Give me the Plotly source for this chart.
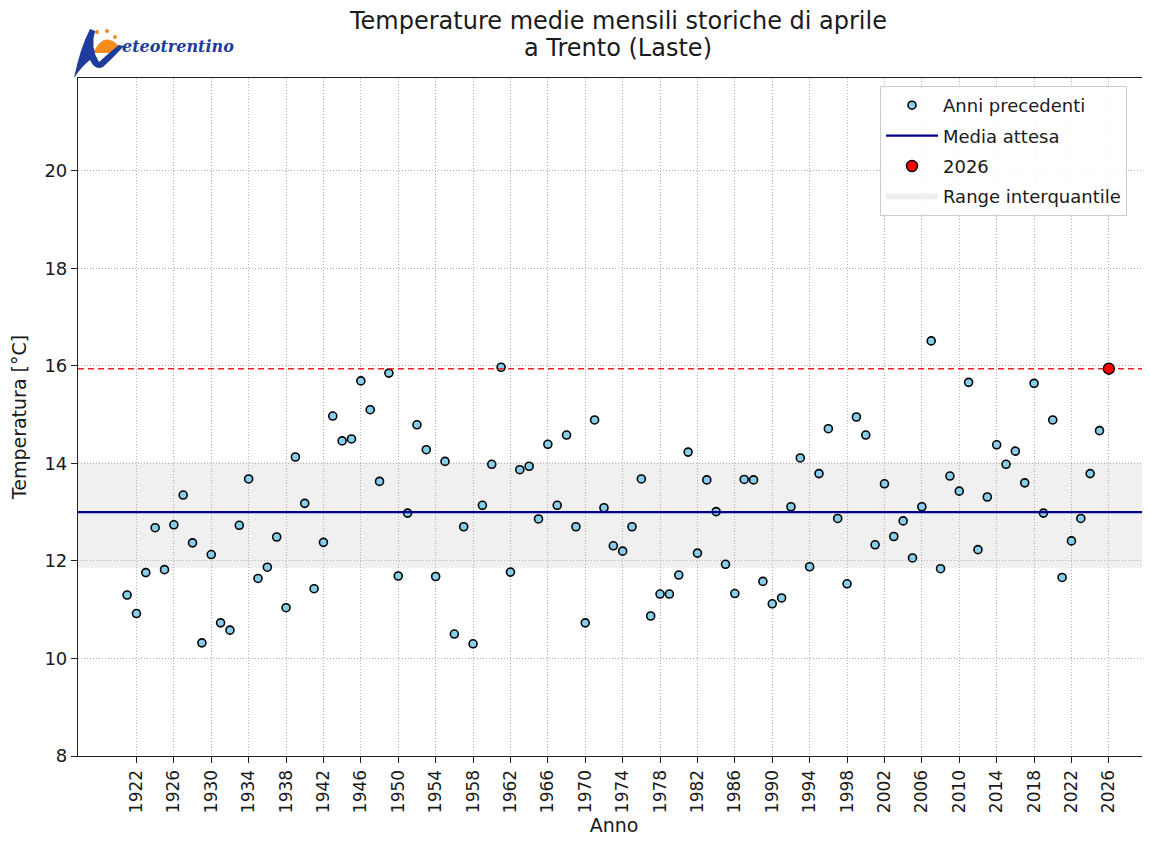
import plotly.graph_objects as go

years = list(range(1921, 2026))
temps = [
    11.30, 10.92, 11.76, 12.68, 11.82, 12.74, 13.35, 12.37, 10.32, 12.13,  # 1921-1930
    10.73, 10.58, 12.73, 13.68, 11.64, 11.87, 12.49, 11.04, 14.13, 13.18,  # 1931-1940
    11.43, 12.38, 14.97, 14.46, 14.50, 15.69, 15.10, 13.63, 15.85, 11.69,  # 1941-1950
    12.98, 14.79, 14.28, 11.68, 14.04, 10.50, 12.70, 10.30, 13.14, 13.98,  # 1951-1960
    15.97, 11.77, 13.87, 13.94, 12.86, 14.39, 13.14, 14.58, 12.70, 10.73,  # 1961-1970
    14.89, 13.09, 12.31, 12.20, 12.70, 13.68, 10.87, 11.32, 11.32, 11.71,  # 1971-1980
    14.23, 12.16, 13.66, 13.01, 11.93, 11.33, 13.67, 13.66, 11.58, 11.12,  # 1981-1990
    11.24, 13.11, 14.11, 11.88, 13.79, 14.71, 12.87, 11.53, 14.95, 14.58,  # 1991-2000
    12.33, 13.58, 12.50, 12.82, 12.06, 13.11, 16.51, 11.84, 13.74, 13.43,  # 2001-2010
    15.66, 12.23, 13.31, 14.38, 13.98, 14.25, 13.60, 15.64, 12.98, 14.89,  # 2011-2020
    11.66, 12.41, 12.87, 13.79, 14.67,                                      # 2021-2025
]
current_year = 2026
current_temp = 15.94
mean_temp = 13.0
q25 = 11.85
q75 = 14.02
tick_years = list(range(1922, 2027, 4))
y_ticks = [8, 10, 12, 14, 16, 18, 20]

x_range = [1915.75, 2030.4]
y_range = [8, 21.9]

OFF = 8  # page body margin of the browser
W, H = 1150 - OFF, 844 - 2 * OFF
L, R, T = 78 - OFF, 0, 78 - OFF
B = H - (756 - OFF)
pw, ph = W - L - R, H - T - B


def px(xs):
    return (xs - OFF - L) / pw


def py(ys):
    return (H - B - (ys - OFF)) / ph


FONT = "DejaVu Sans"
TXT = "#1a1a1a"
fig = go.Figure()

fig.add_trace(go.Scatter(
    x=years, y=temps, mode="markers", name="Anni precedenti", legendgroup="a",
    marker=dict(size=8, color="#87ceeb", line=dict(color="black", width=1.6)),
    legendrank=1,
))
fig.add_trace(go.Scatter(
    x=x_range, y=[mean_temp, mean_temp], mode="lines", name="Media attesa", legendgroup="b",
    line=dict(color="#00008b", width=2.2), legendrank=2,
))
fig.add_trace(go.Scatter(
    x=x_range, y=[current_temp, current_temp], mode="lines", showlegend=False,
    line=dict(color="#ee2222", width=1.5, dash="6px,4px"),
))
fig.add_trace(go.Scatter(
    x=[current_year], y=[current_temp], mode="markers", name=str(current_year), legendgroup="c",
    marker=dict(size=11, color="#ff0000", line=dict(color="black", width=1.4)),
    legendrank=3,
))
fig.add_trace(go.Scatter(
    x=[None, None], y=[None, None], mode="none", fill="toself", legendgroup="d",
    fillcolor="rgba(200,200,200,0.3)", name="Range interquantile", legendrank=4,
))

fig.add_shape(type="rect", xref="paper", yref="y", x0=0, x1=1, y0=q25, y1=q75,
              fillcolor="rgba(200,200,200,0.28)", line=dict(width=0), layer="below")

# Logo (approximation of Meteotrentino logo)
blue = "#1d3c9c"
orange = "#f28c1e"
fig.add_shape(type="path", xref="paper", yref="paper",
              path="M {:.4f},{:.4f} Q {:.4f},{:.4f} {:.4f},{:.4f} L {:.4f},{:.4f} Z".format(
                  px(93), py(53), px(104), py(30), px(119), py(46), px(117), py(53)),
              fillcolor=orange, line=dict(width=0))
for cx, cy, r in [(97, 32, 2.0), (107, 31, 2.0), (115, 37, 2.0)]:
    fig.add_shape(type="circle", xref="paper", yref="paper",
                  x0=px(cx - r), x1=px(cx + r), y0=py(cy + r), y1=py(cy - r),
                  fillcolor=orange, line=dict(width=0))
fig.add_shape(type="path", xref="paper", yref="paper",
              path="M {:.4f},{:.4f} Q {:.4f},{:.4f} {:.4f},{:.4f} L {:.4f},{:.4f} Q {:.4f},{:.4f} {:.4f},{:.4f} "
                   "Q {:.4f},{:.4f} {:.4f},{:.4f} L {:.4f},{:.4f} Q {:.4f},{:.4f} {:.4f},{:.4f} "
                   "Q {:.4f},{:.4f} {:.4f},{:.4f} Q {:.4f},{:.4f} {:.4f},{:.4f} Z".format(
                       px(74), py(78), px(80), py(48), px(90), py(29),
                       px(95), py(31),
                       px(90), py(48), px(99), py(62),
                       px(110), py(52), px(119), py(45),
                       px(124), py(46),
                       px(113), py(58), px(103), py(67),
                       px(95), py(71), px(90), py(60),
                       px(82), py(66), px(74), py(78)),
              fillcolor=blue, line=dict(width=0))
fig.add_annotation(xref="paper", yref="paper", x=px(120), y=py(47), xanchor="left", yanchor="middle",
                   text="<b><i>eteotrentino</i></b>", showarrow=False,
                   font=dict(family="DejaVu Serif", size=16, color=blue))

# Title (two lines)
fig.add_annotation(xref="paper", yref="paper", x=px(618), y=py(21), xanchor="center", yanchor="middle",
                   text="Temperature medie mensili storiche di aprile", showarrow=False,
                   font=dict(family=FONT, size=24, color=TXT))
fig.add_annotation(xref="paper", yref="paper", x=px(618), y=py(48), xanchor="center", yanchor="middle",
                   text="a Trento (Laste)", showarrow=False,
                   font=dict(family=FONT, size=24, color=TXT))

fig.update_layout(
    width=W, height=H,
    margin=dict(l=L, r=R, t=T, b=B, autoexpand=False),
    paper_bgcolor="white", plot_bgcolor="white",
    font=dict(family=FONT, color=TXT, size=17),
    showlegend=True,
    legend=dict(x=px(880), xanchor="left", y=py(86), yanchor="top",
                bgcolor="rgba(255,255,255,0.85)", bordercolor="#cccccc", borderwidth=1,
                font=dict(family=FONT, size=18, color=TXT),
                itemsizing="trace", itemwidth=52, tracegroupgap=4),
    xaxis=dict(range=x_range, tickmode="array", tickvals=tick_years, tickangle=-90,
               showgrid=True, gridcolor="#b0b0b0", griddash="1px,2px", gridwidth=1,
               showline=True, linecolor="#222222", linewidth=1.2, mirror=True,
               ticks="outside", ticklen=6, tickcolor="#222222", zeroline=False,
               tickfont=dict(size=17), automargin=False,
               title=dict(text="Anno", font=dict(size=19), standoff=17)),
    yaxis=dict(range=y_range, tickmode="array", tickvals=y_ticks,
               showgrid=True, gridcolor="#b0b0b0", griddash="1px,2px", gridwidth=1,
               showline=True, linecolor="#222222", linewidth=1.2, mirror=False,
               ticks="outside", ticklen=6, tickcolor="#222222", zeroline=False,
               tickfont=dict(size=18), automargin=False,
               title=dict(text="Temperatura [°C]", font=dict(size=19), standoff=12)),
)

fig.write_html("out.html")
